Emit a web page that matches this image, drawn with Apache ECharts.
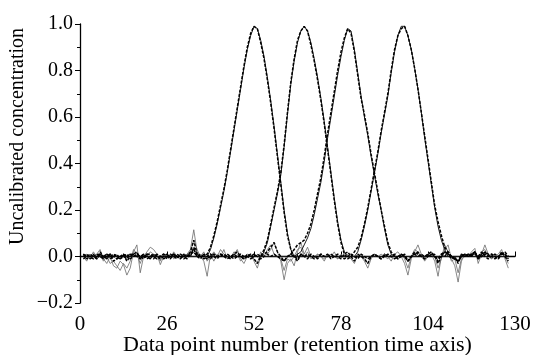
<!DOCTYPE html>
<html>
<head>
<meta charset="utf-8">
<script src="https://cdn.jsdelivr.net/npm/echarts@6/dist/echarts.min.js"></script>
<style>
  html, body { margin: 0; padding: 0; background: #fff; }
  #chart { width: 533px; height: 355px; }
</style>
</head>
<body>
<div id="chart"></div>
<script>
// Resolved concentration profiles, one value per data point (points 1..128).
// Tick labels for both axes.
const xTickLabels = ['0', '26', '52', '78', '104', '130'];
const yTickLabels = ['\u22120.2', '0.0', '0.2', '0.4', '0.6', '0.8', '1.0'];

// Reference (true) profiles of the four components.
const trueA = [
  0,0,0,0,0,0,0,0,0,0, 0,0,0,0,0,0,0,0,0,0, 0,0,0,0,0,0,0,0,0,0, 0,0,0,0,0,0,0,0,
  0.03,0.08,0.14,0.21,0.28,0.36,0.45,0.54,0.63,0.72,0.81,0.89,
  0.95,0.99,0.98,0.93,0.86,0.77,0.67,0.56,0.44,0.32,0.20,0.10,0.03,
  0,0,0,0,0,0,0,0,0,0, 0,0,0,0,0,0,0,0,0,0, 0,0,0,0,0,0,0,0,0,0, 0,0,0,0,0,0,0,0,0,0,
  0,0,0,0,0,0,0,0,0,0, 0,0,0,0,0,0,0,0,0,0, 0,0,0,0,0
];
const trueB = [
  0,0,0,0,0,0,0,0,0,0, 0,0,0,0,0,0,0,0,0,0, 0,0,0,0,0,0,0,0,0,0, 0,0,0,0,0,0,0,0,0,0,
  0,0,0,0,0,0,0,0,0,0, 0,0,0,0,
  0.02,0.06,0.13,0.20,0.27,0.35,0.47,0.61,0.74,0.84,0.92,0.97,0.99,
  0.97,0.92,0.85,0.77,0.68,0.58,0.47,0.36,0.25,0.15,0.07,0.02,
  0,0,0,0,0,0,0,0,0,0, 0,0,0,0,0,0,0,0,0,0, 0,0,0,0,0,0,0,0,0,0, 0,0,0,0,0,0,0,0,0,0,
  0,0,0,0,0,0,0,0,0
];
const trueC = [
  0,0,0,0,0,0,0,0,0,0, 0,0,0,0,0,0,0,0,0,0, 0,0,0,0,0,0,0,0,0,0, 0,0,0,0,0,0,0,0,0,0,
  0,0,0,0,0,0,0,0,0,0, 0,0,0,0,0,0,0,0,0,0, 0,0,0,0,
  0.01,0.02,0.05,0.08,0.12,0.18,0.25,0.32,0.41,0.51,0.60,0.69,0.78,0.86,0.93,0.98,
  0.97,0.89,0.79,0.69,0.60,0.52,0.43,0.35,0.27,0.20,0.12,0.05,0.01,
  0,0,0,0,0,0,0,0,0,0, 0,0,0,0,0,0,0,0,0,0, 0,0,0,0,0,0,0,0,0,0, 0,0,0,0,0
];
const trueD = [
  0,0,0,0,0,0,0,0,0,0, 0,0,0,0,0,0,0,0,0,0, 0,0,0,0,0,0,0,0,0,0, 0,0,0,0,0,0,0,0,0,0,
  0,0,0,0,0,0,0,0,0,0, 0,0,0,0,0,0,0,0,0,0, 0,0,0,0,0,0,0,0,0,0, 0,0,0,0,0,0,0,0,0,0,
  0,0,
  0.02,0.07,0.13,0.20,0.28,0.36,0.44,0.53,0.61,0.69,0.79,0.88,0.95,0.99,0.99,
  0.95,0.89,0.81,0.72,0.62,0.51,0.41,0.31,0.21,0.13,0.07,0.03,
  0,0,0,0,0,0,0,0,0,0, 0,0,0,0,0,0,0,0,0
];

// Estimated profiles of the four components.
const estA = [
  0.01,-0.01,0.00,0.01,-0.01,0.02,0.00,-0.01,0.01,-0.02,
  -0.01,0.00,0.01,-0.02,0.00,0.01,0.02,-0.01,0.00,0.01,
  0.00,-0.01,0.01,0.00,-0.01,0.00,0.01,0.00,-0.01,0.01,
  0.00,0.01,0.00,0.04,0.01,0.00,0.00,0.01,0.04,0.09,
  0.15,0.22,0.29,0.37,0.46,0.55,0.64,0.73,0.82,0.90,
  0.96,0.99,0.98,0.92,0.85,0.76,0.66,0.55,0.43,0.31,
  0.19,0.09,0.03,0.00,-0.02,0.01,0.00,-0.01,0.01,0.00,
  -0.01,0.01,0.00,0.01,-0.01,0.00,0.01,0.00,-0.01,0.00,
  0.01,0.00,-0.01,0.01,0.00,-0.01,0.00,0.01,0.00,-0.01,
  0.00,0.01,0.00,-0.01,0.00,0.01,0.00,-0.02,0.00,0.01,
  0.02,0.00,-0.01,0.00,0.01,0.00,-0.02,0.01,0.02,0.01,
  0.00,-0.01,-0.02,0.00,0.01,0.00,0.01,0.02,-0.01,0.00,
  0.02,0.01,0.00,-0.01,0.00,0.01,0.01,-0.01
];
const estB = [
  -0.01,0.00,0.01,0.00,-0.01,0.01,0.00,0.01,-0.01,0.00,
  0.01,-0.01,0.00,0.01,-0.01,0.00,0.01,0.00,-0.01,0.01,
  0.01,0.00,-0.01,0.00,0.01,-0.01,0.00,0.01,0.00,0.00,
  -0.01,0.00,0.01,0.02,0.00,-0.01,0.01,0.00,-0.01,0.01,
  0.00,0.01,0.00,-0.01,0.00,0.01,0.02,0.00,-0.01,0.00,
  0.01,-0.01,-0.03,0.00,0.03,0.07,0.14,0.21,0.28,0.36,
  0.48,0.62,0.75,0.85,0.93,0.97,0.99,0.97,0.91,0.84,
  0.76,0.67,0.57,0.46,0.35,0.24,0.14,0.06,0.01,-0.01,
  0.00,-0.02,0.01,0.00,-0.01,-0.03,0.00,0.01,0.00,-0.01,
  0.01,0.00,0.00,0.01,-0.01,0.00,0.01,-0.02,0.00,0.02,
  0.01,0.00,-0.01,0.01,0.00,0.01,-0.03,0.00,0.02,0.01,
  -0.01,0.00,-0.03,0.01,0.00,0.01,0.00,0.02,-0.01,0.01,
  0.01,0.00,0.01,0.00,-0.01,0.02,0.00,-0.02
];
const estC = [
  0.00,0.01,-0.01,0.00,0.01,0.00,-0.01,0.01,0.00,0.01,
  0.00,-0.01,0.01,0.00,0.01,0.01,0.00,-0.01,0.01,0.00,
  -0.01,0.01,0.00,0.00,0.01,0.00,-0.01,0.01,0.00,-0.01,
  0.01,0.00,0.02,0.07,0.01,0.00,-0.01,0.00,0.01,0.00,
  -0.01,0.01,0.00,0.01,0.00,-0.01,0.00,0.01,0.00,0.00,
  -0.01,0.00,0.01,0.00,0.01,0.02,0.04,0.06,0.02,0.00,
  -0.02,0.00,0.01,0.03,0.05,0.06,0.07,0.10,0.14,0.20,
  0.27,0.34,0.43,0.53,0.62,0.71,0.80,0.88,0.94,0.98,
  0.96,0.88,0.78,0.68,0.61,0.53,0.44,0.36,0.28,0.20,
  0.13,0.06,0.02,0.00,-0.01,0.01,0.00,-0.02,0.00,0.01,
  0.00,0.01,0.00,0.01,0.02,0.00,-0.01,0.01,0.00,0.02,
  0.00,-0.01,-0.02,0.00,0.01,0.00,0.01,0.01,0.00,0.02,
  0.00,-0.01,0.00,0.01,0.00,0.01,0.02,0.00
];
const estD = [
  0.01,0.00,0.00,-0.01,0.00,0.01,-0.01,0.00,0.01,0.00,
  -0.01,0.00,0.00,-0.01,0.01,0.00,0.01,0.00,0.01,-0.01,
  0.00,0.01,0.00,-0.01,0.00,0.01,0.00,0.00,0.01,0.00,
  0.00,-0.01,0.01,0.03,0.00,0.01,0.00,-0.01,0.00,0.01,
  0.00,0.00,0.01,0.00,-0.01,0.01,0.00,0.00,-0.01,0.01,
  0.00,0.01,0.00,-0.01,0.00,0.01,0.00,0.01,0.00,-0.01,
  -0.02,0.00,0.01,0.00,-0.01,0.01,0.00,0.01,0.00,-0.01,
  0.00,0.01,0.00,0.00,0.01,0.00,0.00,-0.01,0.01,0.02,
  0.00,0.02,0.04,0.08,0.14,0.21,0.29,0.37,0.45,0.54,
  0.62,0.70,0.80,0.89,0.95,0.98,0.99,0.95,0.89,0.81,
  0.72,0.62,0.52,0.42,0.32,0.22,0.15,0.09,0.04,0.02,
  0.00,-0.01,-0.02,0.01,0.00,0.01,0.00,0.02,-0.01,0.01,
  0.02,0.00,0.01,0.00,-0.01,0.01,0.01,-0.01
];

// Noisy baseline traces.
const noise1 = [
  0.00,-0.02,0.01,0.00,0.01,0.03,-0.01,-0.03,0.00,-0.04,
  -0.05,-0.02,-0.035,-0.08,-0.05,0.02,0.05,-0.07,0.00,0.02,
  0.04,0.03,0.01,-0.035,0.00,0.01,-0.01,0.02,0.00,-0.01,
  0.00,0.01,0.03,0.115,0.02,0.00,-0.02,-0.085,0.01,-0.02,
  0.01,0.00,0.03,-0.01,0.00,0.01,0.03,-0.01,-0.03,0.00,
  0.01,-0.02,-0.05,0.00,0.02,0.01,0.03,0.06,0.02,-0.02,
  -0.10,-0.03,-0.01,-0.04,0.02,0.06,0.01,0.04,0.00,-0.01,
  0.01,0.00,-0.02,0.01,0.00,0.02,-0.01,0.01,0.00,0.01,
  -0.01,-0.03,0.01,0.00,-0.02,-0.05,-0.01,0.01,0.00,-0.01,
  0.01,0.00,-0.02,0.01,0.02,0.00,-0.03,-0.08,-0.01,0.02,
  0.05,0.01,-0.02,0.00,0.01,-0.02,-0.085,0.00,0.03,0.05,
  -0.01,-0.04,-0.11,-0.02,0.01,0.00,0.02,0.035,-0.03,0.01,
  0.05,0.01,-0.01,0.00,0.01,0.03,-0.01,-0.05
];
const noise2 = [
  0.00,0.01,-0.01,0.02,0.00,0.01,-0.02,0.00,-0.03,-0.02,
  -0.04,-0.06,-0.03,-0.05,-0.02,0.03,0.01,-0.03,0.01,0.00,
  0.02,0.01,0.00,-0.02,0.01,0.00,0.01,-0.01,0.00,0.01,
  0.00,0.01,0.02,0.07,0.03,0.00,0.02,-0.02,0.00,0.02,
  0.00,0.03,0.01,0.00,-0.01,0.02,0.01,-0.02,0.00,0.01,
  0.00,-0.01,-0.03,0.02,0.00,0.03,0.05,0.01,0.00,-0.01,
  -0.06,-0.01,-0.02,0.00,0.03,0.04,0.00,0.02,-0.01,0.00,
  0.01,0.00,-0.01,0.00,0.01,0.00,-0.01,0.00,0.01,0.00,
  -0.01,-0.02,0.00,0.01,-0.01,-0.03,0.00,0.01,0.00,0.01,
  0.00,-0.01,0.01,0.00,0.00,0.01,-0.01,-0.05,0.00,0.03,
  0.02,0.00,-0.01,0.01,0.02,0.00,-0.05,-0.01,0.05,0.02,
  -0.02,-0.01,-0.07,-0.01,0.00,0.01,0.01,0.02,-0.01,0.02,
  0.03,0.00,-0.01,0.01,0.00,0.02,0.00,-0.03
];

// Pair each profile value with its data point number (1-based).
function toPoints(values) {
  return values.map(function (v, i) { return [i + 1, v]; });
}

const FONT = 'Liberation Serif';

function lineSeries(name, values, style) {
  return {
    name: name,
    type: 'line',
    data: toPoints(values),
    showSymbol: false,
    symbol: 'none',
    smooth: false,
    silent: true,
    animation: false,
    lineStyle: style
  };
}

const solidStyle = { color: '#1a1a1a', width: 1, type: 'solid' };
const dashStyle = { color: '#000', width: 1.5, type: [3, 1.5] };
const greyStyle = { color: '#6a6a6a', width: 0.8, type: 'solid' };

const chart = echarts.init(document.getElementById('chart'), null, { renderer: 'canvas' });
chart.setOption({
  animation: false,
  backgroundColor: '#fff',
  grid: { left: 80, right: 18, top: 24, bottom: 52, containLabel: false, outerBoundsMode: 'none' },
  xAxis: {
    type: 'value',
    min: 0, max: 130, interval: 26,
    name: 'Data point number (retention time axis)',
    nameLocation: 'middle',
    nameGap: 31,
    nameMoveOverlap: false,
    nameTextStyle: { fontFamily: FONT, fontSize: 22, color: '#000' },
    axisLine: { lineStyle: { color: '#000', width: 1.3 } },
    axisTick: { inside: true, length: 5, lineStyle: { color: '#000', width: 1 } },
    minorTick: { show: true, splitNumber: 2, length: 3, lineStyle: { color: '#000', width: 1 } },
    splitLine: { show: false },
    axisLabel: {
      fontFamily: FONT, fontSize: 21, color: '#000', margin: 11,
      formatter: function (v) { return xTickLabels[Math.round(v / 26)]; }
    }
  },
  yAxis: {
    type: 'value',
    min: -0.2, max: 1.0, interval: 0.2,
    name: 'Uncalibrated concentration',
    nameLocation: 'middle',
    nameGap: 52,
    nameMoveOverlap: false,
    nameTextStyle: { fontFamily: FONT, fontSize: 20, color: '#000', padding: [0, 0, 0, 54] },
    axisLine: { show: true, lineStyle: { color: '#000', width: 1.3 } },
    axisTick: { show: true, inside: false, length: 5, lineStyle: { color: '#000', width: 1 } },
    minorTick: { show: true, splitNumber: 2, length: 3, lineStyle: { color: '#000', width: 1 } },
    splitLine: { show: false },
    axisLabel: {
      fontFamily: FONT, fontSize: 20, color: '#000', margin: 7,
      formatter: function (v) { return yTickLabels[Math.round((v + 0.2) / 0.2)]; }
    }
  },
  series: [
    lineSeries('noise1', noise1, greyStyle),
    lineSeries('noise2', noise2, greyStyle),
    lineSeries('trueA', trueA, solidStyle),
    lineSeries('trueB', trueB, solidStyle),
    lineSeries('trueC', trueC, solidStyle),
    lineSeries('trueD', trueD, solidStyle),
    lineSeries('estA', estA, dashStyle),
    lineSeries('estB', estB, dashStyle),
    lineSeries('estC', estC, dashStyle),
    lineSeries('estD', estD, dashStyle)
  ]
});
</script>
</body>
</html>
